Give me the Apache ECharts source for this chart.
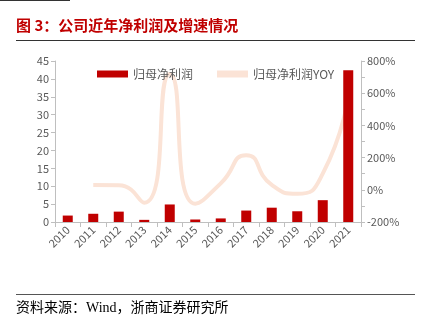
<!DOCTYPE html>
<html><head><meta charset="utf-8">
<script src="https://cdn.jsdelivr.net/npm/echarts@6/dist/echarts.min.js"></script>
<style>html,body{margin:0;padding:0;background:#fff;}#c{width:430px;height:326px;}</style>
</head><body><div id="c"></div>
<script>
var categories = ['2010','2011','2012','2013','2014','2015','2016','2017','2018','2019','2020','2021'];
var netProfit = [1.8, 2.3, 2.9, 0.6, 4.9, 0.7, 1.0, 3.2, 4.0, 3.0, 6.1, 42.4];
var netProfitYoY = ['-', 30, 28, -80, 720, -86, 40, 215, 30, -25, 100, 585];
var leftTicks = {min: 0, max: 45, interval: 5};
var rightTicks = {min: -200, max: 800, interval: 200};

var chart = echarts.init(document.getElementById('c'));
var grey = '#595959';
chart.setOption({
  animation: false,
  textStyle: {fontFamily: 'Noto Sans CJK SC'},
  graphic: [
    {type: 'line', shape: {x1: 0, y1: 0.5, x2: 70, y2: 0.5}, style: {stroke: '#333', lineWidth: 1}},
    {type: 'text', left: 16, top: 18, style: {text: '图 3：公司近年净利润及增速情况', fill: '#C00000', font: 'bold 15px "Noto Sans CJK SC"'}},
    {type: 'line', shape: {x1: 16, y1: 40.5, x2: 415, y2: 40.5}, style: {stroke: '#333', lineWidth: 1}},
    {type: 'line', shape: {x1: 16, y1: 294.5, x2: 415, y2: 294.5}, style: {stroke: '#555', lineWidth: 1}},
    {type: 'text', left: 16, top: 301, style: {text: '资料来源：Wind，浙商证券研究所', fill: '#000', font: '14px "Liberation Serif", "Noto Sans CJK SC"'}}
  ],
  legend: {
    top: 63, left: 92, itemGap: 24, itemWidth: 31, itemHeight: 7,
    textStyle: {color: grey, fontSize: 12},
    data: [{name: '归母净利润', icon: 'rect'}, {name: '归母净利润YOY', icon: 'rect', itemStyle: {color: '#FBE3D6'}}]
  },
  grid: {left: 55, right: 69, top: 61, bottom: 104},
  xAxis: {
    type: 'category', data: categories,
    axisLine: {lineStyle: {color: '#BFBFBF'}},
    axisTick: {show: true, alignWithLabel: false, lineStyle: {color: '#BFBFBF'}},
    axisLabel: {rotate: 45, color: grey, fontSize: 11, margin: 6}
  },
  yAxis: [
    {type: 'value', min: leftTicks.min, max: leftTicks.max, interval: leftTicks.interval,
     axisLine: {show: true, lineStyle: {color: '#BFBFBF'}}, axisTick: {show: true, length: 4, lineStyle: {color: '#BFBFBF'}},
     splitLine: {show: false}, axisLabel: {color: grey, fontSize: 11, margin: 6}},
    {type: 'value', min: rightTicks.min, max: rightTicks.max, interval: rightTicks.interval,
     axisLine: {show: true, lineStyle: {color: '#BFBFBF'}}, axisTick: {show: true, length: 4, lineStyle: {color: '#BFBFBF'}},
     minorTick: {show: true, splitNumber: 2, length: 4, lineStyle: {color: '#BFBFBF'}},
     splitLine: {show: false}, axisLabel: {color: grey, fontSize: 11, margin: 6, formatter: '{value}%'}}
  ],
  series: [
    {name: '归母净利润', type: 'bar', data: netProfit, barWidth: 10, itemStyle: {color: '#C00000'}},
    {name: '归母净利润YOY', type: 'line', yAxisIndex: 1, data: netProfitYoY, smooth: 0.6, symbol: 'none',
     lineStyle: {color: '#FBE3D6', width: 4}, itemStyle: {color: '#FBE3D6'}, z: 1}
  ]
});
</script></body></html>
